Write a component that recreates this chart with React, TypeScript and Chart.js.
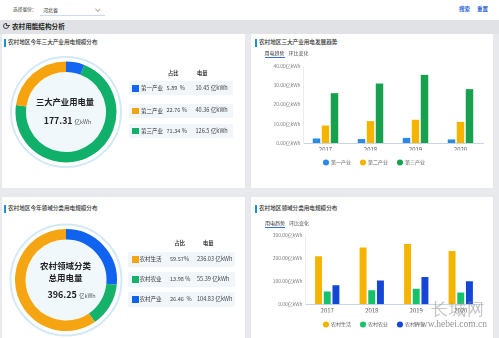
import React, { useEffect, useRef } from 'react';
import { Chart, registerables } from 'chart.js';
Chart.register(...registerables);

const FONT = '"Noto Sans CJK SC", "Noto Sans", sans-serif';

// ---- data ----
const industryNames = ['第一产业', '第二产业', '第三产业'];
const industryShares = [5.89, 22.76, 71.34];
const industryShareText = ['5.89  %', '22.76 %', '71.34 %'];
const industryPower = ['10.45', '40.36', '126.5'];
const industryTotal = '177.31';
const industryColors = ['#1366f2', '#f6a30d', '#10b06a'];
const industryRingOrder = [0, 2, 1];

const domainNames = ['农村生活', '农村农业', '农村产业'];
const domainShares = [59.57, 13.98, 26.46];
const domainShareText = ['59.57%', '13.98 %', '26.46  %'];
const domainPower = ['236.03', '55.39', '104.83'];
const domainTotal = '396.25';
const domainColors = ['#f6a512', '#17b26a', '#0f63ef'];
const domainRingOrder = [2, 1, 0];

const years = ['2017', '2018', '2019', '2020'];
const primaryTrend = [2.4, 2.1, 2.7, 1.9];
const secondaryTrend = [9.1, 11.4, 12.1, 11.0];
const tertiaryTrend = [25.9, 30.9, 35.4, 28.0];
const trendColors = ['#2a8be4', '#f5b400', '#17a04e'];
const trendMax = 40;
const trendStep = 10;

const ruralLife = [208, 246, 261, 231];
const ruralAgri = [55, 60, 67, 51];
const ruralIndustry = [82, 103, 118, 100];
const domainBarColors = ['#f5b400', '#16c16c', '#1547d6'];
const domainMax = 300;
const domainStep = 100;

// ---- helpers ----
function T(props: any) {
  const { x, y, size, color = '#333', weight = 400, center = false, children, style = {} } = props;
  return (
    <div
      style={{
        position: 'absolute',
        left: x,
        top: y - size * 0.6,
        fontSize: size,
        lineHeight: `${size * 1.2}px`,
        color,
        fontWeight: weight,
        whiteSpace: 'nowrap',
        fontFamily: FONT,
        transform: center ? 'translateX(-50%)' : undefined,
        ...style,
      }}
    >
      {children}
    </div>
  );
}

function Box(props: any) {
  const { x, y, w, h, bg, style = {} } = props;
  return <div style={{ position: 'absolute', left: x, top: y, width: w, height: h, background: bg, ...style }} />;
}

function Ring(props: any) {
  const { labels, values, colors, cx, cy, radius, inner } = props;
  const ref = useRef<HTMLCanvasElement>(null);
  const size = 124;
  useEffect(() => {
    const pad = size / 2 - radius;
    const deco = {
      id: 'deco',
      beforeDatasetsDraw(chart: any) {
        const { ctx, chartArea } = chart;
        const x = (chartArea.left + chartArea.right) / 2;
        const y = (chartArea.top + chartArea.bottom) / 2;
        ctx.save();
        ctx.beginPath();
        ctx.arc(x, y, radius + 4.5, 0, Math.PI * 2);
        ctx.fillStyle = '#ffffff';
        ctx.fill();
        ctx.lineWidth = 2;
        ctx.strokeStyle = '#d3e9f6';
        ctx.stroke();
        ctx.beginPath();
        ctx.arc(x, y, inner, 0, Math.PI * 2);
        ctx.fillStyle = '#f1f8fc';
        ctx.fill();
        ctx.restore();
      },
    };
    const chart = new Chart(ref.current as HTMLCanvasElement, {
      type: 'doughnut',
      data: {
        labels,
        datasets: [{ data: values, backgroundColor: colors, borderWidth: 0, hoverOffset: 0 }],
      },
      options: {
        animation: false,
        responsive: false,
        cutout: `${(inner / radius) * 100}%`,
        layout: { padding: pad },
        events: [],
        plugins: { legend: { display: false }, tooltip: { enabled: false } },
      } as any,
      plugins: [deco],
    });
    return () => chart.destroy();
  }, []);
  return (
    <canvas
      ref={ref}
      width={size}
      height={size}
      style={{ position: 'absolute', left: cx - size / 2, top: cy - size / 2, width: size, height: size }}
    />
  );
}

function Bars(props: any) {
  const { series, colors, names, left, top, width, height, pl, pr, pt, yWidth, xHeight, max, step, catPct, barPct } = props;
  const ref = useRef<HTMLCanvasElement>(null);
  useEffect(() => {
    const chart = new Chart(ref.current as HTMLCanvasElement, {
      type: 'bar',
      data: {
        labels: years,
        datasets: series.map((d: number[], i: number) => ({
          label: names[i],
          data: d,
          backgroundColor: colors[i],
          borderWidth: 0,
          categoryPercentage: catPct,
          barPercentage: barPct,
        })),
      },
      options: {
        animation: false,
        responsive: false,
        events: [],
        layout: { padding: { left: pl, right: pr, top: pt, bottom: 0 } },
        plugins: {
          tooltip: { enabled: false },
          legend: {
            position: 'bottom',
            labels: {
              usePointStyle: true,
              pointStyle: 'circle',
              boxWidth: 5,
              boxHeight: 4.3,
              padding: 9.5,
              color: '#666',
              font: { size: 5, family: FONT },
            },
          },
        },
        scales: {
          x: {
            grid: { display: false, drawTicks: false },
            border: { color: '#c8d5e4', width: 1 },
            ticks: { color: '#555', padding: 3, font: { size: 6, family: FONT } },
            afterFit: (s: any) => {
              s.height = xHeight;
            },
          },
          y: {
            min: 0,
            max,
            grid: { display: false, drawTicks: false },
            border: { color: '#e9edf2', width: 1 },
            ticks: {
              stepSize: step,
              padding: 2.5,
              color: '#7d7d7d',
              font: { size: 4.9, family: FONT },
              callback: (v: any) => Number(v).toFixed(2) + '亿kWh',
            },
            afterFit: (s: any) => {
              s.width = yWidth;
            },
          },
        },
      } as any,
    });
    return () => chart.destroy();
  }, []);
  return (
    <canvas
      ref={ref}
      width={width}
      height={height}
      style={{ position: 'absolute', left, top, width, height }}
    />
  );
}

function PanelTitle(props: any) {
  const { x, y, text } = props;
  return (
    <>
      <Box x={x} y={y - 4} w={2} h={8} bg="#1a93d6" />
      <T x={x + 4} y={y} size={5.6} color="#333" weight={500}>
        {text}
      </T>
    </>
  );
}

function Tabs(props: any) {
  const { x, y } = props;
  return (
    <>
      <T x={x} y={y} size={5} color="#333">
        用电趋势
      </T>
      <Box x={x} y={y + 4} w={20} h={1} bg="#3a6fd8" />
      <T x={x + 24} y={y} size={5} color="#555">
        环比变化
      </T>
    </>
  );
}

function Table(props: any) {
  const { names, shares, power, colors, rowsY, headY, bgX, bgW, bgH, markX, labelX, pctX, valX, headPctX, headValX } = props;
  return (
    <>
      <T x={headPctX} y={headY} size={5.2} weight={700} color="#333">
        占比
      </T>
      <T x={headValX} y={headY} size={5.2} weight={700} color="#333">
        电量
      </T>
      {names.map((n: string, i: number) => (
        <React.Fragment key={n}>
          <Box x={bgX} y={rowsY[i] - bgH / 2} w={bgW} h={bgH} bg="#f1f6fb" />
          <Box x={markX} y={rowsY[i] - 3.3} w={6.6} h={6.6} bg={colors[i]} />
          <T x={labelX} y={rowsY[i]} size={5.5} color="#333">
            {n}
          </T>
          <T x={pctX} y={rowsY[i]} size={5.6} color="#444" style={{ whiteSpace: 'pre' }}>
            {shares[i]}
          </T>
          <T x={valX} y={rowsY[i]} size={5.6} color="#444" style={{ whiteSpace: 'pre' }}>
            {power[i]} 亿kWh
          </T>
        </React.Fragment>
      ))}
    </>
  );
}

export default function App() {
  return (
    <div
      style={{
        position: 'fixed',
        left: 0,
        top: 0,
        width: 499,
        height: 338,
        overflow: 'hidden',
        background: '#e7e9ec',
        fontFamily: FONT,
      }}
    >
      {/* top bar */}
      <Box x={0} y={0} w={499} h={20} bg="#ffffff" />
      <T x={13} y={9.5} size={4.7} color="#444">
        选择省份：
      </T>
      <T x={43} y={9.5} size={5} color="#333">
        河北省
      </T>
      <Box x={40} y={15} w={65} h={1} bg="#cddbf0" />
      <Box
        x={96}
        y={7}
        w={2.5}
        h={2.5}
        bg="transparent"
        style={{ borderRight: '0.8px solid #aaa', borderBottom: '0.8px solid #aaa', transform: 'rotate(45deg)' }}
      />
      <T x={459} y={9.5} size={5.5} color="#2a62d8" weight={700}>
        搜索
      </T>
      <T x={477} y={9.5} size={5.5} color="#2a62d8" weight={700}>
        重置
      </T>

      {/* section band */}
      <Box x={0} y={20} w={499} h={14} bg="#e0e2e5" />
      <Box
        x={2.5}
        y={23}
        w={6}
        h={6}
        bg="transparent"
        style={{ border: '1.2px solid #444', borderRadius: '50%', boxSizing: 'border-box' }}
      />
      <Box x={5.5} y={22.5} w={4} h={3.5} bg="#e0e2e5" style={{ borderLeft: '1.2px solid #444', borderBottom: '1.2px solid #444', boxSizing: 'border-box' }} />
      <T x={12} y={26.5} size={6.6} weight={700} color="#222">
        农村用能结构分析
      </T>

      {/* panels */}
      <Box x={2} y={34} w={243} h={154} bg="#ffffff" />
      <Box x={251} y={34} w={242} h={154} bg="#ffffff" />
      <Box x={2} y={197} w={243} h={141} bg="#ffffff" />
      <Box x={251} y={197} w={242} h={141} bg="#ffffff" />

      <PanelTitle x={4} y={42.5} text="农村地区今年三大产业用电规模分布" />
      <PanelTitle x={255} y={42.5} text="农村地区三大产业用电发展趋势" />
      <PanelTitle x={4} y={208.5} text="农村地区今年领域分类用电规模分布" />
      <PanelTitle x={255} y={208.5} text="农村地区领域分类用电规模分布" />

      {/* top-left ring */}
      <Ring
        labels={industryRingOrder.map((i) => industryNames[i])}
        values={industryRingOrder.map((i) => industryShares[i])}
        colors={industryRingOrder.map((i) => industryColors[i])}
        cx={66}
        cy={112}
        radius={50.5}
        inner={40}
      />
      <T x={65} y={101.7} size={8.3} weight={700} color="#222" center>
        三大产业用电量
      </T>
      <T x={67.5} y={121} size={8.8} weight={700} color="#222" center>
        {industryTotal} <span style={{ fontSize: 5.5, fontWeight: 400, color: '#555' }}>亿kWh</span>
      </T>
      <Table
        names={industryNames}
        shares={industryShareText}
        power={industryPower}
        colors={industryColors}
        rowsY={[88.3, 110.8, 131]}
        headY={72.7}
        bgX={129}
        bgW={104}
        bgH={14}
        markX={132}
        labelX={141}
        pctX={166.5}
        valX={195.5}
        headPctX={168}
        headValX={197}
      />

      {/* bottom-left ring */}
      <Ring
        labels={domainRingOrder.map((i) => domainNames[i])}
        values={domainRingOrder.map((i) => domainShares[i])}
        colors={domainRingOrder.map((i) => domainColors[i])}
        cx={66}
        cy={280}
        radius={51}
        inner={40.5}
      />
      <T x={65.5} y={264.7} size={8.5} weight={700} color="#222" center>
        农村领域分类
      </T>
      <T x={65.5} y={277.5} size={8.5} weight={700} color="#222" center>
        总用电量
      </T>
      <T x={71.5} y={295.5} size={9} weight={700} color="#222" center>
        {domainTotal} <span style={{ fontSize: 5.5, fontWeight: 400, color: '#555' }}>亿kWh</span>
      </T>
      <Table
        names={domainNames}
        shares={domainShareText}
        power={domainPower}
        colors={domainColors}
        rowsY={[259.7, 279.5, 299.5]}
        headY={242.7}
        bgX={128}
        bgW={107}
        bgH={15}
        markX={132}
        labelX={139.5}
        pctX={170}
        valX={197}
        headPctX={174.5}
        headValX={203}
      />

      {/* top-right bars */}
      <Tabs x={264.5} y={53.3} />
      <Bars
        series={[primaryTrend, secondaryTrend, tertiaryTrend]}
        colors={trendColors}
        names={industryNames}
        left={252}
        top={60}
        width={240}
        height={115}
        pl={13.5}
        pr={9}
        pt={6}
        yWidth={37.5}
        xHeight={7.4}
        max={trendMax}
        step={trendStep}
        catPct={0.6}
        barPct={0.83}
      />

      {/* bottom-right bars */}
      <Tabs x={265} y={223.3} />
      <Bars
        series={[ruralLife, ruralAgri, ruralIndustry]}
        colors={domainBarColors}
        names={domainNames}
        left={252}
        top={229}
        width={240}
        height={108}
        pl={13.5}
        pr={9}
        pt={6}
        yWidth={39.5}
        xHeight={8.3}
        max={domainMax}
        step={domainStep}
        catPct={0.585}
        barPct={0.8}
      />

      {/* watermark */}
      <T x={431} y={309} size={17} color="rgba(150,150,150,0.55)" style={{ fontFamily: '"DejaVu Serif", serif', letterSpacing: 1 }}>
        长城网
      </T>
      <T x={414} y={324.5} size={9.5} color="rgba(120,120,120,0.8)" style={{ fontFamily: '"Liberation Serif", serif' }}>
        www.hebei.com.cn
      </T>
    </div>
  );
}
